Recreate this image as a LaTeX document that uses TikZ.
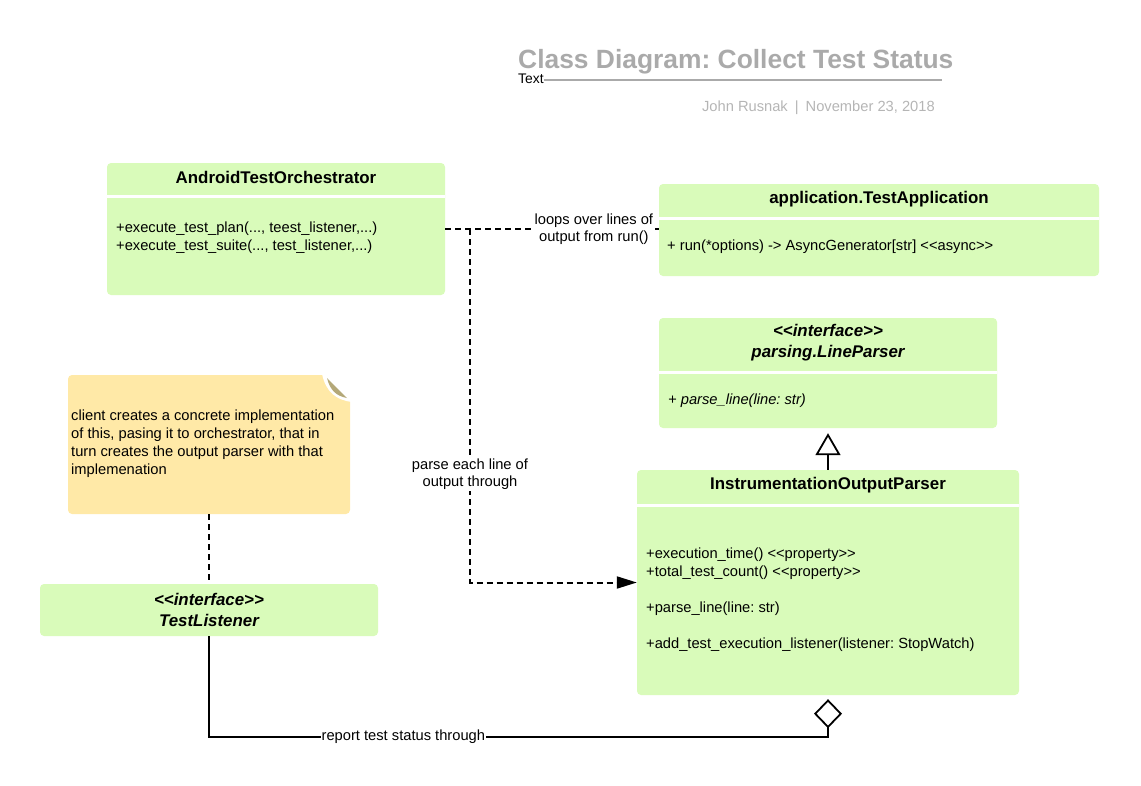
\documentclass[tikz,border=0pt]{standalone}
\usepackage{fontspec}
\setmainfont{Liberation Sans}
\usetikzlibrary{arrows.meta}
\definecolor{umlgreen}{HTML}{D9FBBA}
\definecolor{noteyellow}{HTML}{FFE9A7}
\definecolor{notefold}{HTML}{B4A878}
\definecolor{titlegray}{HTML}{AAAAAA}
\definecolor{subgray}{HTML}{B5B5B5}
\newcommand{\stl}{<\kern0pt<}
\newcommand{\stg}{>\kern0pt>}
\frenchspacing
\begin{document}
\begin{tikzpicture}
[x=1pt, y=-1pt,
 cls/.style={fill=umlgreen,rounded corners=4pt,inner sep=0pt},
 sep/.style={white,line width=3pt},
 hd/.style={font=\fontsize{16.9}{21}\selectfont\bfseries,align=center,inner sep=0pt,yshift=-1.5pt},
 mb/.style={font=\fontsize{14.7}{18}\selectfont,align=left,inner sep=0pt,anchor=west,yshift=-2pt},
 lbl/.style={font=\fontsize{14.7}{17.5}\selectfont,align=center,fill=white,inner sep=1pt},
 dl/.style={line width=2pt,dash pattern=on 6pt off 4pt},
 sl/.style={line width=1.8pt}]
\useasboundingbox (0,0) rectangle (1141,785);
% title block
\node[anchor=base west,inner sep=0pt,text=titlegray,font=\fontsize{26.4}{30}\selectfont\bfseries] (ttl) at (518,68) {Class Diagram: Collect Test Status};
\node[anchor=base west,inner sep=0pt,font=\fontsize{13.9}{16}\selectfont] (txt) at (518,83) {Text};
\draw[titlegray,line width=1.8pt] (txt.east |- 0,80) -- (942,80);
\node[anchor=base east,inner sep=0pt,text=subgray,font=\fontsize{14.7}{18}\selectfont] (auth) at (935,111) {John Rusnak\hspace{7pt}|\hspace{7pt}November 23, 2018};
% classes
\node[cls,minimum width=338pt,minimum height=132pt] (orch) at (276,229) {};
\draw[sep] (orch.west |- 0,196) -- (orch.east |- 0,196);
\node[hd] (orchT) at (276,176) {AndroidTestOrchestrator};
\node[mb] (orchM) at (116,236) {+execute\_test\_plan(..., teest\_listener,...)\\+execute\_test\_suite(..., test\_listener,...)};
\node[cls,minimum width=440pt,minimum height=92pt] (app) at (879,230) {};
\draw[sep] (app.west |- 0,218) -- (app.east |- 0,218);
\node[hd] (appT) at (879,198) {application.TestApplication};
\node[mb] (appM) at (667,245) {+ run(*options) -> AsyncGenerator[str] \stl async\stg};
\node[cls,minimum width=338pt,minimum height=110pt] (lp) at (828,373) {};
\draw[sep] (lp.west |- 0,372) -- (lp.east |- 0,372);
\node[hd,font=\fontsize{16.9}{21}\selectfont\bfseries\itshape] (lpT) at (828,341.5) {\stl interface\stg\\parsing.LineParser};
\node[mb,font=\fontsize{14.7}{18}\selectfont\itshape] (lpM) at (668,399) {+ parse\_line(line: str)};
\node[cls,minimum width=382pt,minimum height=225pt] (parser) at (828,582.5) {};
\draw[sep] (parser.west |- 0,505) -- (parser.east |- 0,505);
\node[hd] (parserT) at (828,484) {InstrumentationOutputParser};
\node[mb] (parserM) at (646,598) {+execution\_time() \stl property\stg\\+total\_test\_count() \stl property\stg\\[18pt]+parse\_line(line: str)\\[18pt]+add\_test\_execution\_listener(listener: StopWatch)};
\node[cls,minimum width=338pt,minimum height=52pt] (listener) at (209,610) {};
\node[hd,font=\fontsize{16.9}{21}\selectfont\bfseries\itshape] (listenerT) at (209,608.5) {\stl interface\stg\\TestListener};
% note
\node[cls,fill=noteyellow,minimum width=282pt,minimum height=139pt] (note) at (209,444.5) {};
\fill[white] (322,374) -- (352,374) -- (352,402) .. controls (336,400) and (326,392) .. (322,374) -- cycle;
\fill[notefold] (327,378) -- (347,398) .. controls (336,396) and (330,390) .. (327,378) -- cycle;
\node[mb] (noteT) at (71,441.5) {client creates a concrete implementation\\of this, pasing it to orchestrator, that in\\turn creates the output parser with that\\implemenation};
% connectors
\coordinate (fork) at (470,229);
\coordinate (agg) at (828,737);
\draw[dl] (orch.east) -- node[lbl,pos=0.696]{loops over lines of\\output from run()} (orch.east -| app.west);
\draw[dl,-{Triangle[length=20pt,width=12pt]}] (fork) -- node[lbl,pos=0.693]{parse each line of\\output through} (fork |- parser.west) -- (parser.west);
\draw[dl] (note.south) -- (listener.north);
\draw[sl,-{Diamond[open,length=29pt,width=28pt]},shorten >=4pt] (listener.south) |- node[lbl,pos=0.657]{report test status through} (agg) -- (parser.south);
\draw[sl,-{Triangle[open,length=22pt,width=25pt]},shorten >=5pt] (parser.north) -- (lp.south);
\end{tikzpicture}
\end{document}
